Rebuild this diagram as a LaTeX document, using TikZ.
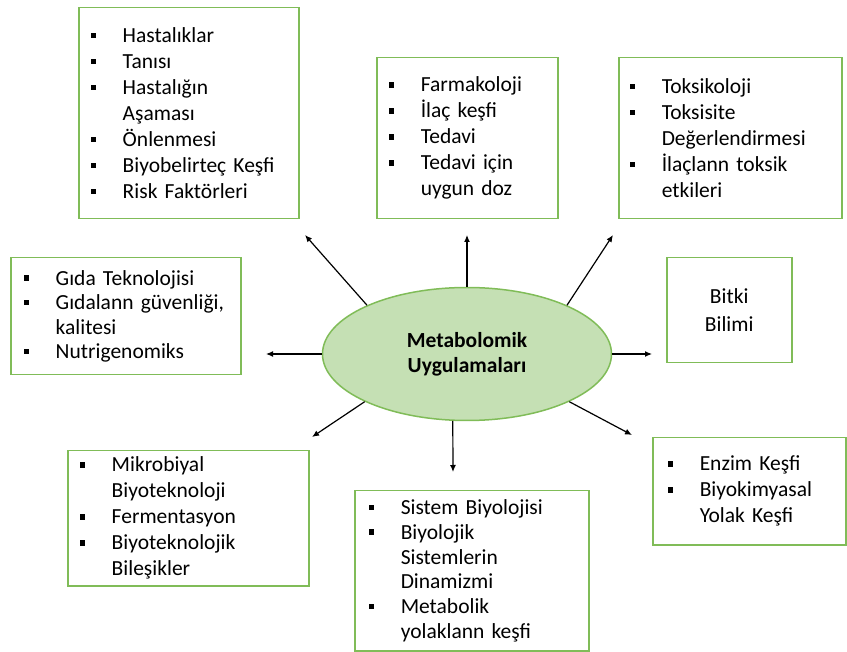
\documentclass[tikz,border=0pt]{standalone}
\usepackage{fontspec}
\setmainfont{Carlito}
\usetikzlibrary{shapes.geometric,arrows.meta}
\definecolor{boxgreen}{RGB}{128,188,88}
\definecolor{fillgreen}{RGB}{197,224,180}
\newcommand{\blt}{\makebox[32pt][l]{\rule[0.2em]{0.26em}{0.26em}}}
\newcommand{\cnt}{\hspace*{32pt}}
\begin{document}
\begin{tikzpicture}[
    x=1pt, y=-1pt,
    listbox/.style={rectangle, draw=boxgreen, line width=1.5pt, anchor=north west, align=left,
        inner xsep=12pt, inner ysep=0pt, font=\fontsize{21.5}{26}\selectfont},
    hub/.style={ellipse, draw=boxgreen, line width=1.5pt, fill=fillgreen, minimum width=289pt,
        minimum height=133pt, inner sep=0pt, align=center, font=\bfseries\fontsize{21.5}{25}\selectfont},
    arrow/.style={-{Latex[length=7pt,width=6pt]}, line width=1.2pt}
]
    \useasboundingbox (0,0) rectangle (847,652);

    \node[hub] (app) at (467,354) {Metabolomik\\Uygulamaları};

    \node[listbox, text width=196pt, minimum height=211pt] (hastalik) at (78,7)
        {\blt Hastalıklar\\\blt Tanısı\\\blt Hastalığın\\\cnt Aşaması\\\blt Önlenmesi\\\blt Biyobelirteç Keşfi\\\blt Risk Faktörleri};
    \node[listbox, text width=157pt, minimum height=161pt] (farma) at (376,57)
        {\blt Farmakoloji\\\blt İlaç keşfi\\\blt Tedavi\\\blt Tedavi için\\\cnt uygun doz};
    \node[listbox, inner xsep=11pt, text width=201pt, minimum height=161pt] (toksik) at (618,57)
        {\blt Toksikoloji\\\blt Toksisite\\\cnt Değerlendirmesi\\\blt İlaçlann toksik\\\cnt etkileri};
    \node[listbox, inner xsep=13pt, text width=204pt, minimum height=117pt,
        font=\fontsize{21.5}{24.5}\selectfont] (gida) at (10,257)
        {\blt Gıda Teknolojisi\\\blt Gıdalann güvenliği,\\\cnt kalitesi\\\blt Nutrigenomiks};
    \node[listbox, align=center, inner xsep=0pt, text width=125pt, minimum height=105pt,
        font=\fontsize{21.5}{28}\selectfont] (bitki) at (666,257) {Bitki\\Bilimi};
    \node[listbox, inner xsep=15pt, text width=163pt, minimum height=107pt] (enzim) at (652,437)
        {\blt Enzim Keşfi\\\blt Biyokimyasal\\\cnt Yolak Keşfi};
    \node[listbox, text width=217pt, minimum height=135pt] (mikro) at (67,450)
        {\blt Mikrobiyal\\\cnt Biyoteknoloji\\\blt Fermentasyon\\\blt Biyoteknolojik\\\cnt Bileşikler};
    \node[listbox, inner xsep=14pt, text width=206pt, minimum height=160pt,
        font=\fontsize{21.5}{24.7}\selectfont] (sistem) at (354,490)
        {\blt Sistem Biyolojisi\\\blt Biyolojik\\\cnt Sistemlerin\\\cnt Dinamizmi\\\blt Metabolik\\\cnt yolaklann keşfi};

    % free arrow tips
    \coordinate (tipUL) at (305,235);
    \coordinate (tipU) at (467,235);
    \coordinate (tipUR) at (613,235);
    \coordinate (tipL) at (266,354);
    \coordinate (tipR) at (652,354);
    \coordinate (tipDL) at (312,437);
    \coordinate (tipD) at (453,472);
    \coordinate (tipDR) at (632,435);

    \draw[arrow] (app.154) -- (tipUL);
    \draw[arrow] (app.north) -- (tipU);
    \draw[arrow] (app.26) -- (tipUR);
    \draw[arrow] (app.west) -- (tipL);
    \draw[arrow] (app.east) -- (tipR);
    \draw[arrow] (app.205) -- (tipDL);
    \draw[arrow] (app.258) -- (tipD);
    \draw[arrow] (app.335) -- (tipDR);
\end{tikzpicture}
\end{document}
